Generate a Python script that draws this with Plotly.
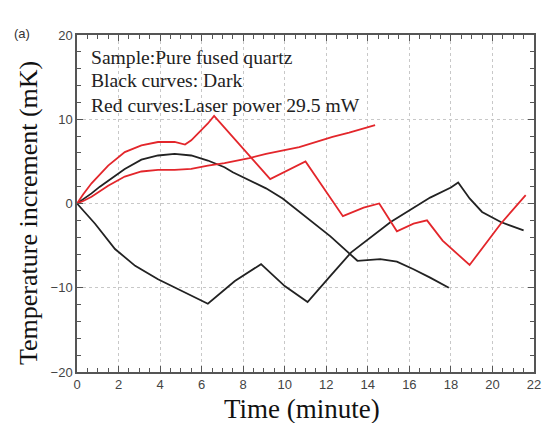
import plotly.graph_objects as go

# Upper red curve (laser on, with steps)
red1_x = [0, 0.3, 0.7, 1.1, 1.5, 2.3, 3.1, 3.9, 4.7, 5.2, 5.5, 6.3, 6.6, 9.3, 11.0, 12.8, 13.8, 14.55, 15.4, 16.2, 16.85, 17.6, 18.3, 18.9, 20.4, 21.6]
red1_y = [0, 1.1, 2.4, 3.5, 4.5, 6.1, 6.9, 7.3, 7.3, 7.0, 7.5, 9.5, 10.4, 2.9, 5.0, -1.5, -0.5, 0.0, -3.3, -2.4, -2.0, -4.4, -6.0, -7.3, -2.4, 1.0]

# Lower red curve (laser on, monotonic)
red2_x = [0, 0.3, 0.7, 1.1, 1.5, 2.3, 3.1, 3.9, 4.7, 5.5, 6.3, 7.1, 8.3, 9.1, 10.7, 12.3, 13.1, 14.35]
red2_y = [0, 0.3, 0.8, 1.5, 2.1, 3.2, 3.8, 4.0, 4.0, 4.1, 4.5, 4.8, 5.4, 5.9, 6.7, 7.9, 8.4, 9.3]

# Black curve A (dark, rising then falling)
blackA_x = [0, 0.3, 0.7, 1.1, 1.5, 2.3, 3.1, 3.9, 4.7, 5.5, 6.3, 7.1, 7.5, 8.3, 9.1, 9.9, 10.5, 11.1, 11.9, 12.2, 13.5, 14.6, 15.4, 16.2, 17.0, 17.9]
blackA_y = [0, 0.5, 1.2, 2.0, 2.7, 4.1, 5.2, 5.7, 5.9, 5.7, 5.1, 4.3, 3.7, 2.7, 1.8, 0.6, -0.6, -1.7, -3.3, -3.9, -6.8, -6.6, -6.9, -7.8, -8.8, -10.0]

# Black curve B (dark, falling first)
blackB_x = [0, 0.4, 0.87, 1.83, 2.8, 3.9, 4.7, 5.5, 6.3, 7.6, 8.86, 10.0, 11.1, 12.2, 13.2, 15.1, 17.0, 18.0, 18.35, 18.9, 19.5, 20.4, 21.5]
blackB_y = [0, -1.1, -2.4, -5.4, -7.4, -9.0, -10.0, -11.0, -11.9, -9.2, -7.2, -9.8, -11.7, -8.6, -5.8, -2.2, 0.7, 1.9, 2.5, 0.6, -1.0, -2.2, -3.2]

x_ticks = [0, 2, 4, 6, 8, 10, 12, 14, 16, 18, 20, 22]
y_ticks = [-20, -10, 0, 10, 20]

RED = "#e3262b"
BLACK = "#222222"

W, H = 542, 423
L, R, T, B = 77, 8, 35, 51
PW, PH = W - L - R, H - T - B

def px(xp):  # page pixel -> paper
    return (xp - L) / PW

def py(yp):
    return 1 - (yp - T) / PH

fig = go.Figure()
for xs, ys, c in [(blackA_x, blackA_y, BLACK), (blackB_x, blackB_y, BLACK),
                  (red2_x, red2_y, RED), (red1_x, red1_y, RED)]:
    fig.add_trace(go.Scatter(x=xs, y=ys, mode="lines", line=dict(color=c, width=1.8),
                             showlegend=False, hoverinfo="skip"))

axis_common = dict(
    showline=True, linecolor="#555555", linewidth=1.5, mirror="ticks",
    ticks="inside", ticklen=6, tickwidth=1.2, tickcolor="#555555",
    showgrid=True, gridcolor="#c8c8c8", griddash="dot", gridwidth=1,
    zeroline=False, automargin=False,
    tickfont=dict(family="Arial, Liberation Sans, sans-serif", size=13, color="#444444"),
)

fig.update_layout(
    width=W, height=H,
    margin=dict(l=L, r=R, t=T, b=B),
    paper_bgcolor="white", plot_bgcolor="white",
    xaxis=dict(range=[0, 22], tickvals=x_ticks,
               minor=dict(dtick=0.5, ticks="inside", ticklen=4, tickcolor="#555555", showgrid=False),
               **axis_common),
    yaxis=dict(range=[-20, 20], tickvals=y_ticks,
               minor=dict(dtick=2, ticks="inside", ticklen=4, tickcolor="#555555", showgrid=False),
               **axis_common),
)

serif_family = "Liberation Serif, Times New Roman, serif"
fig.add_annotation(text="Time (minute)", xref="paper", yref="paper", x=px(302), y=py(409),
                   xanchor="center", yanchor="middle", showarrow=False,
                   font=dict(family=serif_family, size=27, color="#111111"))
fig.add_annotation(text="Temperature increment (mK)", xref="paper", yref="paper", x=px(28), y=py(213),
                   xanchor="center", yanchor="middle", showarrow=False, textangle=-90,
                   font=dict(family=serif_family, size=26, color="#111111"))

serif = dict(family=serif_family, size=19.6, color="#222222")
lines = ["Sample:Pure fused quartz", "Black curves: Dark", "Red curves:Laser power 29.5 mW"]
ys_px = [57, 80, 105]
for t, yp in zip(lines, ys_px):
    fig.add_annotation(text=t, xref="paper", yref="paper", x=px(89), y=py(yp),
                       xanchor="left", yanchor="middle", showarrow=False, font=serif)

fig.add_annotation(text="(a)", xref="paper", yref="paper", x=px(12), y=py(33),
                   xanchor="left", yanchor="middle", showarrow=False,
                   font=dict(family="Arial, Liberation Sans, sans-serif", size=13, color="#333333"))

fig.write_html("out.html", config={"displayModeBar": False},
               post_script="document.body.style.margin='0';document.body.style.overflow='hidden';")
